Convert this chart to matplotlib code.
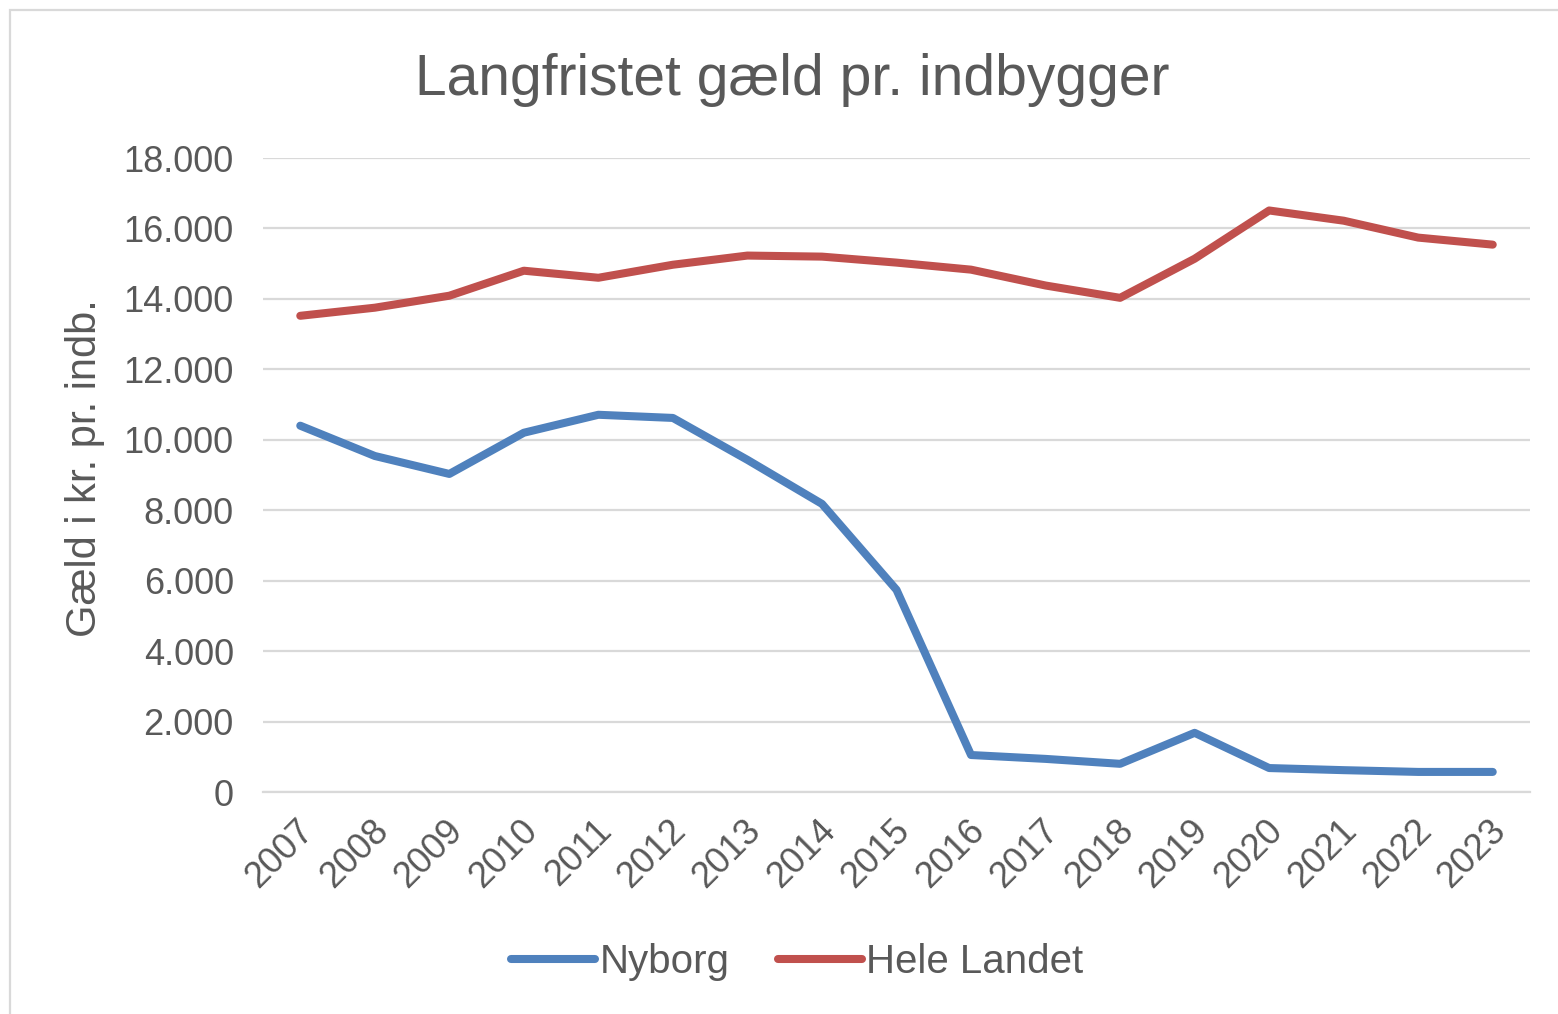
import matplotlib.pyplot as plt
from matplotlib.patches import Rectangle
from matplotlib.ticker import FuncFormatter
from matplotlib.transforms import ScaledTranslation

# data
years = ['2007', '2008', '2009', '2010', '2011', '2012', '2013', '2014', '2015',
         '2016', '2017', '2018', '2019', '2020', '2021', '2022', '2023']
nyborg = [10400, 9540, 9030, 10200, 10710, 10620, 9430, 8180, 5740,
          1050, 940, 800, 1680, 680, 620, 570, 570]
hele_landet = [13520, 13750, 14090, 14800, 14600, 14970, 15230, 15200, 15030,
               14830, 14380, 14030, 15140, 16510, 16220, 15740, 15540]
yticks = [0, 2000, 4000, 6000, 8000, 10000, 12000, 14000, 16000, 18000]

txt = '#595959'
grid = '#D9D9D9'
plt.rcParams['font.family'] = ['Liberation Sans', 'DejaVu Sans']

fig = plt.figure(figsize=(15.58, 10.14), dpi=100)
ax = fig.add_axes([263 / 1558, 1 - 792 / 1014, 1267 / 1558, 634 / 1014])

x = range(len(years))
ax.plot(x, nyborg, color='#4F81BD', lw=5.8, solid_capstyle='round',
        solid_joinstyle='round', label='Nyborg', zorder=3)
ax.plot(x, hele_landet, color='#C0504D', lw=5.8, solid_capstyle='round',
        solid_joinstyle='round', label='Hele Landet', zorder=3)

ax.set_xlim(-0.5, len(years) - 0.5)
ax.set_ylim(0, 18000)
ax.set_yticks(yticks)
ax.yaxis.set_major_formatter(FuncFormatter(lambda v, p: f'{int(v):,}'.replace(',', '.')))
ax.set_xticks(list(x))
ax.set_xticklabels(years, rotation=45, ha='right', va='center', rotation_mode='anchor')
ax.tick_params(axis='both', length=0, labelsize=26, labelcolor=txt)
ax.tick_params(axis='y', pad=21)
ax.tick_params(axis='x', pad=24)
# nudge the rotated year labels a little to the right
shift = ScaledTranslation(8 / 100, 0, fig.dpi_scale_trans)
for lbl in ax.get_xticklabels():
    lbl.set_transform(lbl.get_transform() + shift)
ax.grid(axis='y', color=grid, lw=1.6, zorder=0)
for s in ['top', 'right', 'left']:
    ax.spines[s].set_visible(False)
ax.spines['bottom'].set_color(grid)
ax.spines['bottom'].set_linewidth(1.6)

fig.text(792 / 1558, 1 - 80 / 1014, 'Langfristet gæld pr. indbygger',
         fontsize=41, color=txt, ha='center', va='center')
fig.text(85 / 1558, 1 - 468 / 1014, 'Gæld i kr. pr. indb.', fontsize=30,
         color=txt, rotation=90, ha='center', va='center')

leg = fig.legend(loc='center', bbox_to_anchor=(797 / 1558, 1 - 962 / 1014),
                 ncol=2, frameon=False, fontsize=29, handlelength=2.1,
                 handletextpad=0.1, columnspacing=1.2)
for t in leg.get_texts():
    t.set_color(txt)

# outer frame of the chart area
fig.patches.append(Rectangle((10 / 1558, -0.02), 1.05, 1.02 - 10 / 1014,
                             transform=fig.transFigure, fill=False,
                             edgecolor=grid, lw=1.6))

fig.savefig('out.png', dpi=100, facecolor='white')
